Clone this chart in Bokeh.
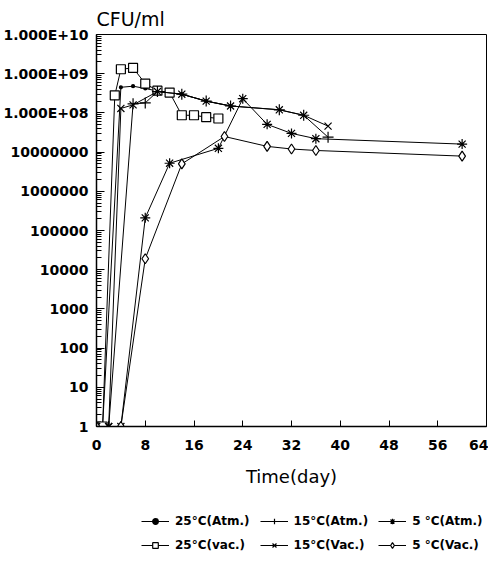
from bokeh.plotting import figure
from bokeh.models import FixedTicker, Legend, LegendItem, Range1d, CustomJSTickFormatter
from bokeh.layouts import column
from bokeh.embed import file_html
from bokeh.resources import INLINE

# ---- data ----
days_25_atm = [0, 1, 4, 6, 8, 10, 14, 18, 22]
cfu_25_atm = [1, 1, 4.5e8, 4.8e8, 4.2e8, 3.6e8, 3.0e8, 2.0e8, 1.5e8]

days_25_vac = [0, 1, 3, 4, 6, 8, 10, 12, 14, 16, 18, 20]
cfu_25_vac = [1, 1, 2.8e8, 1.3e9, 1.4e9, 5.6e8, 3.7e8, 3.3e8, 8.7e7, 8.7e7, 7.8e7, 7.2e7]

days_15_atm = [0, 2, 6, 8, 10, 14, 18, 22, 30, 34, 38]
cfu_15_atm = [1, 1, 1.7e8, 1.8e8, 3.5e8, 3.0e8, 2.0e8, 1.5e8, 1.2e8, 8.7e7, 2.4e7]

days_15_vac = [0, 2, 4, 6, 10, 14, 18, 22, 30, 34, 38]
cfu_15_vac = [1, 1, 1.3e8, 1.6e8, 3.5e8, 3.0e8, 2.0e8, 1.5e8, 1.2e8, 8.7e7, 4.6e7]

days_5_atm = [0, 2, 4, 8, 12, 20, 24, 28, 32, 36, 60]
cfu_5_atm = [1, 1, 1, 2.1e5, 5.2e6, 1.25e7, 2.3e8, 5.1e7, 3.0e7, 2.2e7, 1.6e7]

days_5_vac = [0, 4, 8, 14, 21, 28, 32, 36, 60]
cfu_5_vac = [1, 1, 1.9e4, 5.0e6, 2.5e7, 1.4e7, 1.2e7, 1.1e7, 7.9e6]

x_ticks = [0, 8, 16, 24, 32, 40, 48, 56, 64]
y_tick_values = [1, 10, 100, 1000, 10000, 100000, 1000000, 10000000, 1e8, 1e9, 1e10]
y_tick_labels = ["1", "10", "100", "1000", "10000", "100000", "1000000", "10000000",
                 "1.000E+08", "1.000E+09", "1.000E+10"]

labels = ["25°C(Atm.)", "25°C(vac.)", "15°C(Atm.)", "15°C(Vac.)", "5 °C(Atm.)", "5 °C(Vac.)"]

FONT = "DejaVu Sans"

p = figure(width=488, height=496, y_axis_type="log",
           x_range=Range1d(0, 64), y_range=Range1d(1, 1e10),
           output_backend="svg", toolbar_location=None,
           min_border_left=93, min_border_right=2, min_border_top=25, min_border_bottom=70)

p.title.text = "CFU/ml"
p.title.text_font = FONT
p.title.text_font_size = "19px"
p.title.text_font_style = "normal"
p.title.text_color = "black"
p.title.align = "left"

p.grid.visible = False
p.outline_line_color = "black"
p.outline_line_width = 1
p.background_fill_color = "white"
p.border_fill_color = "white"

# x axis
p.xaxis.ticker = FixedTicker(ticks=x_ticks)
p.xaxis.major_tick_in = 6
p.xaxis.major_tick_out = 0
p.xaxis.minor_tick_line_color = None
p.xaxis.axis_label = "Time(day)"
p.xaxis.axis_label_text_font = FONT
p.xaxis.axis_label_text_font_size = "18px"
p.xaxis.axis_label_text_font_style = "normal"
p.xaxis.axis_label_standoff = 13
p.xaxis.major_label_text_font = FONT
p.xaxis.major_label_text_font_size = "14px"
p.xaxis.major_label_text_font_style = "bold"
p.xaxis.major_label_standoff = 13

# y axis
minor = [m * 10 ** k for k in range(10) for m in range(2, 10)]
p.yaxis.ticker = FixedTicker(ticks=y_tick_values, minor_ticks=minor)
p.yaxis.formatter = CustomJSTickFormatter(args=dict(vals=y_tick_values, labs=y_tick_labels), code="""
    for (let i = 0; i < vals.length; i++) {
        if (Math.abs(Math.log10(vals[i]) - Math.log10(tick)) < 1e-6) return labs[i];
    }
    return "";
""")
p.yaxis.major_tick_in = 8
p.yaxis.major_tick_out = 0
p.yaxis.minor_tick_in = 5
p.yaxis.minor_tick_out = 0
p.yaxis.major_label_text_font = FONT
p.yaxis.major_label_text_font_size = "14px"
p.yaxis.major_label_text_font_style = "bold"
p.yaxis.major_label_standoff = 8

for ax in (p.xaxis, p.yaxis):
    ax.axis_line_color = "black"
    ax.axis_line_width = 1.5
    ax.major_tick_line_color = "black"
    ax.major_label_text_color = "black"
    ax.axis_label_text_color = "black"

series = [
    (days_25_atm, cfu_25_atm, "circle", 3, "black"),
    (days_25_vac, cfu_25_vac, "square", 9, "white"),
    (days_15_atm, cfu_15_atm, "cross", 11, "white"),
    (days_15_vac, cfu_15_vac, "x", 10, "white"),
    (days_5_atm, cfu_5_atm, "asterisk", 10, "white"),
    (days_5_vac, cfu_5_vac, "diamond", 10, "white"),
]

# legend lives in a small companion figure below the chart; its renderers
# carry the same series but the view range keeps them out of sight
leg_fig = figure(width=488, height=56, y_axis_type="log",
                 x_range=Range1d(1000, 1001), y_range=Range1d(1e20, 1e21),
                 x_axis_location=None, y_axis_location=None, toolbar_location=None,
                 output_backend="svg", min_border=0)
leg_fig.grid.visible = False
leg_fig.outline_line_color = None

items = []
for (d, v, mk, sz, fc), lab in zip(series, labels):
    p.line(d, v, line_color="black", line_width=1)
    p.scatter(d, v, marker=mk, size=sz, line_color="black", fill_color=fc, line_width=1.2)
    lr = leg_fig.line(d, v, line_color="black", line_width=1)
    sr = leg_fig.scatter(d, v, marker=mk, size=sz, line_color="black", fill_color=fc, line_width=1.2)
    items.append(LegendItem(label=lab, renderers=[lr, sr]))

legend = Legend(items=items, orientation="vertical", nrows=2,
                label_text_font=FONT, label_text_font_size="12px", label_text_font_style="bold",
                label_text_color="black",
                glyph_width=28, glyph_height=14, label_standoff=6, spacing=10,
                padding=2, margin=0, border_line_color=None, background_fill_alpha=0,
                label_height=14, location=(45, 0))
leg_fig.add_layout(legend, "center")

open("out.html", "w").write(file_html(column(p, leg_fig), INLINE))
